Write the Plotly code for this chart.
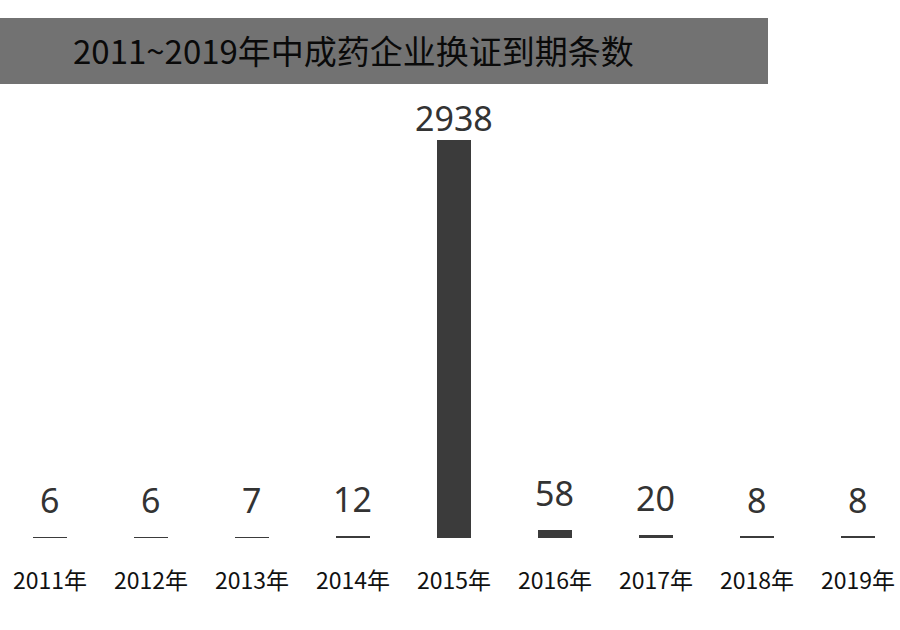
import plotly.graph_objects as go

categories = ["2011年", "2012年", "2013年", "2014年", "2015年", "2016年", "2017年", "2018年", "2019年"]
values = [6, 6, 7, 12, 2938, 58, 20, 8, 8]
title_text = "2011~2019年中成药企业换证到期条数"

H = 630; T = 100; B = 92; PH = H - T - B
def py(pxy):
    return (H - B - pxy) / PH

fig = go.Figure()
fig.add_trace(go.Bar(
    x=categories, y=values, width=0.33,
    marker=dict(color="#3b3b3b", line=dict(width=0)),
    hoverinfo="skip",
))

vmax = max(values)
for c, v in zip(categories, values):
    fig.add_annotation(x=c, y=v, text=str(v), showarrow=False, xref="x", yref="y",
                       yanchor="bottom", yshift=(-3 if v == vmax else 12),
                       font=dict(family="Noto Sans, Open Sans, sans-serif", size=34, color="#333333"))

fig.add_shape(type="rect", xref="paper", yref="paper", x0=0, x1=768/900, y0=py(84), y1=py(18),
              fillcolor="#727272", line=dict(width=0), layer="below")
fig.add_annotation(xref="paper", yref="paper", x=71/900, y=py(50), xanchor="left", yanchor="middle",
                   text=title_text, showarrow=False,
                   font=dict(family="Noto Sans CJK SC, sans-serif", size=33, color="#0a0a0a"))

fig.update_layout(
    width=900, height=630,
    margin=dict(l=0, r=0, t=T, b=B),
    paper_bgcolor="white", plot_bgcolor="white",
    showlegend=False,
    xaxis=dict(range=[-0.495, 8.416], showgrid=False, zeroline=False, showline=False, ticks="",
               tickfont=dict(family="Noto Sans CJK SC, sans-serif", size=23, color="#111111"),
               ticklabelstandoff=27),
    yaxis=dict(range=[0, vmax * PH / 398], visible=False),
    bargap=0,
)

fig.write_html("out.html", config={"displayModeBar": False},
               post_script="document.body.style.margin='0';document.body.style.padding='0';")
